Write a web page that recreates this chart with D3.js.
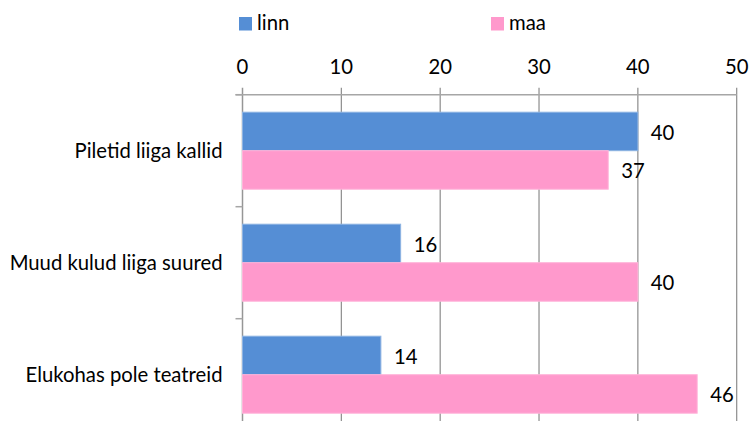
<!DOCTYPE html>
<html>
    <head>
        <meta charset="utf-8">
        <title>Teatris käimise takistused</title>
        <script src="https://d3js.org/d3.v7.min.js"></script>
        <style>
            body { margin: 0; background: #fff; }
            text { font-family: Lato, "Open Sans", sans-serif; fill: #000; font-size: 20.3px; }
        </style>
    </head>
    <body>
        <div id="chart">
            <script>
                // data
                var categories = ["Piletid liiga kallid", "Muud kulud liiga suured", "Elukohas pole teatreid"]
                var seriesNames = ["linn", "maa"]
                var linn = [40, 16, 14]
                var maa = [37, 40, 46]
                var xTicks = [0, 10, 20, 30, 40, 50]

                var colors = {linn: "#558ed5", maa: "#ff99cc"}
                var strokes = {linn: "#8db3e2", maa: "#ffb3d9"}

                var W = 750, H = 421
                // plot area edges (note: "top" is a reserved window property)
                var plotLeft = 242.5, plotRight = 736.7, plotTop = 94.7, plotBottom = 430.7

                var svg = d3.select("#chart")
                    .append("svg")
                    .attr("width", W)
                    .attr("height", H)

                var x = d3.scaleLinear()
                    .domain([0, 50])
                    .range([plotLeft, plotRight])

                var y = d3.scaleBand()
                    .domain(categories)
                    .range([plotTop, plotBottom])

                var ySub = d3.scaleBand()
                    .domain(seriesNames)
                    .range([0, y.bandwidth()])
                    .paddingOuter(0.4545)

                // vertical gridlines (tick marks stick up above the axis)
                svg.append("g")
                    .selectAll("line")
                    .data(xTicks)
                    .join("line")
                    .attr("x1", d => x(d))
                    .attr("x2", d => x(d))
                    .attr("y1", plotTop - 7)
                    .attr("y2", plotBottom)
                    .attr("stroke", d => d == 0 ? "#969696" : "#8c8c8c")
                    .attr("stroke-width", d => d == 0 ? 1.5 : 1.2)

                // top axis line
                svg.append("line")
                    .attr("x1", plotLeft - 7).attr("x2", plotRight)
                    .attr("y1", plotTop).attr("y2", plotTop)
                    .attr("stroke", "#a6a6a6")
                    .attr("stroke-width", 1.5)

                // category ticks on the left
                svg.append("g")
                    .selectAll("line")
                    .data(categories.concat(["end"]))
                    .join("line")
                    .attr("x1", plotLeft - 7)
                    .attr("x2", plotLeft)
                    .attr("y1", (d, i) => plotTop + i * y.step())
                    .attr("y2", (d, i) => plotTop + i * y.step())
                    .attr("stroke", "#a6a6a6")
                    .attr("stroke-width", 1.5)

                // x tick labels
                svg.append("g")
                    .selectAll("text")
                    .data(xTicks)
                    .join("text")
                    .attr("x", d => x(d))
                    .attr("y", 74)
                    .attr("text-anchor", "middle")
                    .text(d => d)

                // category labels
                svg.append("g")
                    .selectAll("text")
                    .data(categories)
                    .join("text")
                    .attr("x", plotLeft - 20)
                    .attr("y", d => y(d) + y.bandwidth() / 2 + 7)
                    .attr("text-anchor", "end")
                    .text(d => d)

                // bars
                var rows = []
                categories.forEach(function(c, i) {
                    rows.push({cat: c, s: "linn", v: linn[i]})
                    rows.push({cat: c, s: "maa", v: maa[i]})
                })

                svg.append("g")
                    .selectAll("rect")
                    .data(rows)
                    .join("rect")
                    .attr("x", x(0))
                    .attr("y", d => y(d.cat) + ySub(d.s))
                    .attr("width", d => x(d.v) - x(0))
                    .attr("height", ySub.bandwidth())
                    .attr("fill", d => colors[d.s])
                    .attr("stroke", d => strokes[d.s])
                    .attr("stroke-width", 1)

                // value labels
                svg.append("g")
                    .selectAll("text")
                    .data(rows)
                    .join("text")
                    .attr("x", d => x(d.v) + 13)
                    .attr("y", d => y(d.cat) + ySub(d.s) + ySub.bandwidth() / 2 + 8.5)
                    .text(d => d.v)

                // legend
                var legendX = {linn: 239, maa: 491}
                var legend = svg.append("g")
                    .selectAll("g")
                    .data(seriesNames)
                    .join("g")
                    .attr("transform", d => "translate(" + legendX[d] + ",17)")
                legend.append("rect")
                    .attr("width", 13)
                    .attr("height", 13.5)
                    .attr("fill", d => colors[d])
                legend.append("text")
                    .attr("x", 18)
                    .attr("y", 12.5)
                    .text(d => d)
            </script>
        </div>
    </body>
</html>
